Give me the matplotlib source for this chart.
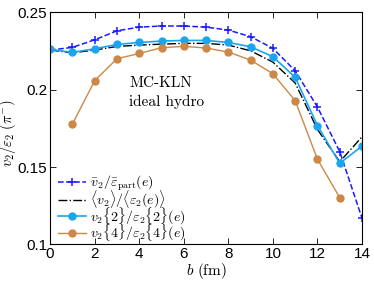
import matplotlib
matplotlib.use("Agg")
import matplotlib.pyplot as plt

plt.rcParams['mathtext.fontset'] = 'cm'
plt.rcParams['font.family'] = ['Liberation Sans', 'DejaVu Sans']

# impact parameter b (fm)
b = [0, 1, 2, 3, 4, 5, 6, 7, 8, 9, 10, 11, 12, 13, 14]
b_v4 = [1, 2, 3, 4, 5, 6, 7, 8, 9, 10, 11, 12, 13]

# v2 / eps2 ratios
ratio_part = [0.2255, 0.2272, 0.2321, 0.2379, 0.2403, 0.2410, 0.2410, 0.2403,
              0.2384, 0.2341, 0.2266, 0.2121, 0.1887, 0.1599, 0.1169]
ratio_mean = [0.2255, 0.2237, 0.2255, 0.2278, 0.2287, 0.2293, 0.2298, 0.2298,
              0.2287, 0.2250, 0.2177, 0.2042, 0.1742, 0.1534, 0.1695]
ratio_v2 = [0.2259, 0.2240, 0.2263, 0.2291, 0.2304, 0.2313, 0.2317, 0.2317,
            0.2304, 0.2276, 0.2212, 0.2079, 0.1767, 0.1524, 0.1635]
ratio_v4 = [0.1777, 0.2057, 0.2199, 0.2233, 0.2270, 0.2279, 0.2268,
            0.2242, 0.2190, 0.2102, 0.1928, 0.1550, 0.1302]

fig = plt.figure(figsize=(3.74, 2.81), dpi=100)
ax = fig.add_axes([0.134, 0.130, 0.834, 0.827])

ax.plot(b, ratio_part, '--', color='#1a1aff', marker='+', ms=6, mew=1.1, lw=1.1,
        label=r'$\bar{v}_2/\bar{\varepsilon}_{\rm part}(e)$')
ax.plot(b, ratio_mean, '-.', color='black', lw=1.0,
        label=r'$\langle v_2\rangle/\langle\varepsilon_2(e)\rangle$')
ax.plot(b, ratio_v2, '-', color='#1aa6ef', marker='o', ms=5, lw=1.2,
        label=r'$v_2\{2\}/\varepsilon_2\{2\}(e)$')
ax.plot(b_v4, ratio_v4, '-', color='#cd8746', marker='o', ms=5, lw=1.0,
        label=r'$v_2\{4\}/\varepsilon_2\{4\}(e)$')

ax.set_xlim(0, 14)
ax.set_ylim(0.1, 0.25)
ax.set_xticks([0, 2, 4, 6, 8, 10, 12, 14])
ax.set_yticks([0.1, 0.15, 0.2, 0.25])
ax.set_yticklabels(['0.1', '0.15', '0.2', '0.25'])
ax.tick_params(direction='in', top=True, right=True, labelsize=11, length=4, width=0.6, pad=2)
for s in ax.spines.values():
    s.set_linewidth(0.8)

ax.set_xlabel(r'$b\ (\mathrm{fm})$', fontsize=11, labelpad=0)
ax.set_ylabel(r'$v_2/\varepsilon_2\ (\pi^{-})$', fontsize=10.5)
ax.yaxis.set_label_coords(-0.103, 0.48)

ax.text(3.55, 0.2016, 'MC-KLN', fontfamily='cmr10', fontsize=11)
ax.text(3.55, 0.1895, 'ideal hydro', fontfamily='cmr10', fontsize=11)

ax.legend(loc='lower left', bbox_to_anchor=(0.0, -0.03), frameon=False, fontsize=10,
          handlelength=2.0, handletextpad=0.3, labelspacing=-0.35, borderaxespad=0.2)

fig.savefig('out.png', dpi=100)
